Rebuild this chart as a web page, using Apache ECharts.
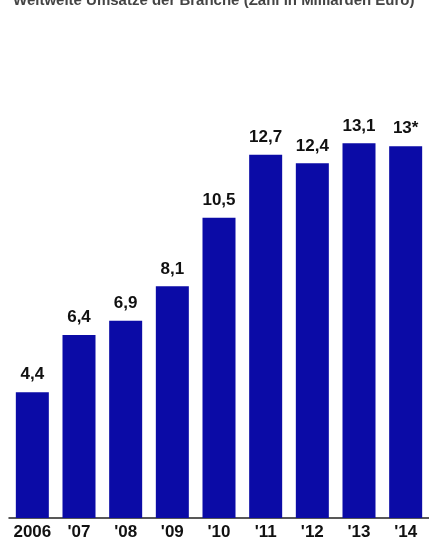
<!DOCTYPE html>
<html>
<head>
<meta charset="utf-8">
<script src="https://cdn.jsdelivr.net/npm/echarts@6/dist/echarts.min.js"></script>
<style>
html,body{margin:0;padding:0;background:#fff;}
#c{width:429px;height:544px;}
</style>
</head>
<body>
<div id="c"></div>
<script>
const categories = ["2006", "'07", "'08", "'09", "'10", "'11", "'12", "'13", "'14"];
const values = [4.4, 6.4, 6.9, 8.1, 10.5, 12.7, 12.4, 13.1, 13.0];
const valueLabels = ["4,4", "6,4", "6,9", "8,1", "10,5", "12,7", "12,4", "13,1", "13*"];
const titleText = "Weltweite Umsätze der Branche (Zahl in Milliarden Euro)";

const chart = echarts.init(document.getElementById('c'), null, {renderer: 'canvas'});
chart.setOption({
  animation: false,
  backgroundColor: '#ffffff',
  title: {
    text: titleText,
    left: 8,
    top: -12,
    textStyle: {fontFamily: 'Liberation Sans', fontSize: 15, fontWeight: 'bold', color: '#444'}
  },
  grid: {left: 9, right: 0, top: 89, bottom: 26, containLabel: false},
  xAxis: {
    type: 'category',
    data: categories,
    axisLine: {show: true, lineStyle: {color: '#222', width: 1.5}},
    axisTick: {show: false},
    axisLabel: {
      interval: 0,
      margin: 6,
      color: '#111',
      fontFamily: 'Liberation Sans',
      fontWeight: 'bold',
      fontSize: 17
    }
  },
  yAxis: {
    type: 'value',
    min: 0,
    max: 15,
    show: false,
    splitLine: {show: false}
  },
  series: [{
    type: 'bar',
    data: values,
    barWidth: 33,
    itemStyle: {color: '#0b0ba6'},
    label: {
      show: true,
      position: 'top',
      distance: 9,
      color: '#111',
      fontFamily: 'Liberation Sans',
      fontWeight: 'bold',
      fontSize: 17,
      formatter: p => valueLabels[p.dataIndex]
    }
  }]
});
</script>
</body>
</html>
